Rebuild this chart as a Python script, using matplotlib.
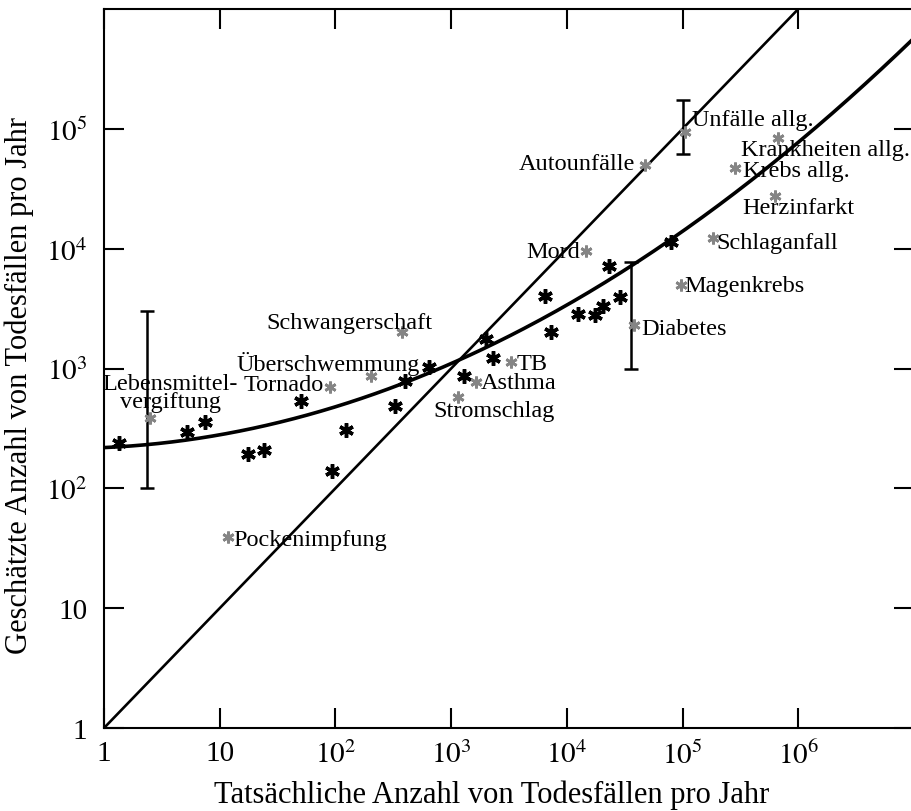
import numpy as np
import matplotlib
matplotlib.use("Agg")
import matplotlib.pyplot as plt

plt.rcParams['font.family'] = ['Liberation Serif', 'DejaVu Serif']
plt.rcParams['mathtext.fontset'] = 'stix'

# schwarze Sterne (ohne Beschriftung)
black_x = [1.35, 5.2, 7.5, 17.7, 24, 50.6, 94, 123, 325, 398, 640, 1280,
           2020, 2320, 6500, 7300, 12500, 17500, 20500, 23000, 28600, 79000]
black_y = [240, 295, 357, 194, 209, 537, 140, 309, 490, 790, 1030, 868,
           1770, 1225, 4050, 2030, 2850, 2800, 3300, 7200, 3960, 11400]

# graue Sterne mit Beschriftung
labels = ["Lebensmittel-\nvergiftung", "Tornado", "Überschwemmung", "Schwangerschaft",
          "Pockenimpfung", "Stromschlag", "Asthma", "TB", "Mord", "Autounfälle",
          "Unfälle allg.", "Krankheiten allg.", "Krebs allg.", "Herzinfarkt",
          "Schlaganfall", "Magenkrebs", "Diabetes"]
gray_x = [2.5, 90, 203, 375, 11.7, 1140, 1630, 3320, 14700, 47000,
          105000, 670000, 282000, 630000, 182000, 96000, 38000]
gray_y = [388, 705, 870, 2030, 39, 580, 775, 1130, 9600, 50000,
          94000, 84000, 47000, 27500, 12300, 5000, 2300]
# Versatz der Texte in Pixel (dx, dy) und Ausrichtung
lab_dx = [20, -6, -43, -52, 6, 36, 5, 5, -6, -9, 7, -37, 8, -33, 4, 4, 7]
lab_dy = [25, 2, 13, 9, -2, -14, -1, -1, -1, 1, 13, -12, -2, -11, -5, -1, -3]
lab_ha = ['center', 'right', 'center', 'center', 'left', 'center', 'left', 'left',
          'right', 'right', 'left', 'left', 'left', 'left', 'left', 'left', 'left']

# Fehlerbalken
err_x = [2.35, 100000, 35600]
err_lo = [100, 62000, 1000]
err_hi = [3000, 174000, 7800]

# quadratische Ausgleichskurve in log-log
fit_a, fit_b, fit_c = 2.34, 0.043, 0.0636

xticks = [1, 10, 1e2, 1e3, 1e4, 1e5, 1e6]
xticklabels = ['1', '10', '$10^2$', '$10^3$', '$10^4$', '$10^5$', '$10^6$']
yticks = [1, 10, 1e2, 1e3, 1e4, 1e5]
yticklabels = ['1', '10', '$10^2$', '$10^3$', '$10^4$', '$10^5$']

fig = plt.figure(figsize=(9.12, 8.12), dpi=100)
ax = fig.add_axes([104/912, 1-729/812, 810/912, 719/812])
ax.set_xscale('log')
ax.set_yscale('log')
ax.set_xlim(1, 1e7)
ax.set_ylim(1, 1e6)

xs = np.logspace(0, 7, 300)
ax.plot(xs, xs, color='black', lw=1.9, zorder=2)
t = np.log10(xs)
ax.plot(xs, 10**(fit_a + fit_b*t + fit_c*t**2), color='black', lw=2.6, zorder=2)

ax.errorbar(err_x, [np.sqrt(l*h) for l, h in zip(err_lo, err_hi)],
            yerr=[[np.sqrt(l*h) - l for l, h in zip(err_lo, err_hi)],
                  [h - np.sqrt(l*h) for l, h in zip(err_lo, err_hi)]],
            fmt='none', ecolor='black', elinewidth=1.8, capsize=5, capthick=1.8, zorder=3)

ax.plot(black_x, black_y, ls='none', marker=(6, 2, 0), ms=10.5, mew=2.5,
        color='black', zorder=4)
ax.plot(gray_x, gray_y, ls='none', marker=(6, 2, 0), ms=8.5, mew=2.0,
        color='#858585', zorder=4)

for i, lab in enumerate(labels):
    ax.annotate(lab, (gray_x[i], gray_y[i]), xytext=(lab_dx[i], lab_dy[i]),
                textcoords='offset pixels', ha=lab_ha[i], va='center',
                fontsize=17.5, linespacing=0.8, multialignment='center', zorder=5)

ax.set_xticks(xticks)
ax.set_xticklabels(xticklabels)
ax.set_yticks(yticks)
ax.set_yticklabels(yticklabels)
ax.minorticks_off()
ax.tick_params(which='major', direction='in', length=14.5, width=1.5,
               top=True, right=True, labelsize=21)
ax.tick_params(axis='x', pad=9)
ax.tick_params(axis='y', pad=12)
for s in ax.spines.values():
    s.set_linewidth(1.5)

ax.set_xlabel('Tatsächliche Anzahl von Todesfällen pro Jahr', fontsize=22)
ax.set_ylabel('Geschätzte Anzahl von Todesfällen pro Jahr', fontsize=22)
ax.xaxis.set_label_coords(0.479, -0.072)
ax.yaxis.set_label_coords(-0.086, 0.478)

fig.savefig('out.png', dpi=100)
